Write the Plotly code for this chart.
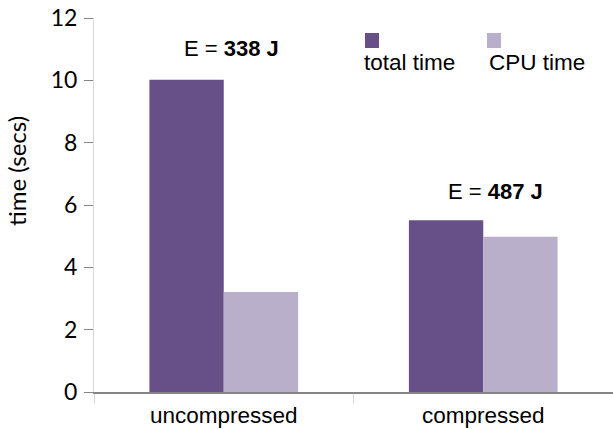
import plotly.graph_objects as go

categories = ["uncompressed", "compressed"]
total_time = [10.02, 5.51]
cpu_time = [3.21, 4.98]
energy = ["338 J", "487 J"]
series_names = ["total time", "CPU time"]
y_ticks = [0, 2, 4, 6, 8, 10, 12]

C_TOTAL = "#675088"
C_CPU = "#b9afcb"

W, H = 613, 429
L, R, T, B = 94, 0, 18, 37

fig = go.Figure()
fig.add_trace(go.Bar(x=categories, y=total_time, name=series_names[0],
                     marker=dict(color=C_TOTAL, line=dict(width=0))))
fig.add_trace(go.Bar(x=categories, y=cpu_time, name=series_names[1],
                     marker=dict(color=C_CPU, line=dict(width=0))))

def px2paper(px, py):
    return (px - L) / (W - L - R), (H - B - py) / (H - T - B)

SANS = "Liberation Sans, Arial"
CAL = "Lato, Open Sans"

# energy annotations
shifts = [(8, 17), (12, 14)]
for cat, tv, e, (dx, dy) in zip(categories, total_time, energy, shifts):
    fig.add_annotation(x=cat, y=tv, text="E = <b>" + e + "</b>", showarrow=False,
                       xanchor="center", yanchor="bottom", xshift=dx, yshift=dy,
                       font=dict(family=SANS, size=22, color="#000000"))

# custom legend: square above text
legend_items = [(series_names[0], C_TOTAL, 365, 33, 362), (series_names[1], C_CPU, 487, 33, 487)]
for name, col, sx, sy, tx in legend_items:
    x0, y0 = px2paper(sx, sy + 15)
    x1, y1 = px2paper(sx + 14, sy)
    fig.add_shape(type="rect", xref="paper", yref="paper", x0=x0, y0=y0, x1=x1, y1=y1,
                  fillcolor=col, line=dict(width=0))
    ax, ay = px2paper(tx, 62)
    fig.add_annotation(xref="paper", yref="paper", x=ax, y=ay, text=name, showarrow=False,
                       xanchor="left", yanchor="middle",
                       font=dict(family=SANS, size=22.5, color="#000000"))

# y axis title
tx, ty = px2paper(16, 171)
fig.add_annotation(xref="paper", yref="paper", x=tx, y=ty, text="time (secs)", showarrow=False,
                   textangle=-90, xanchor="center", yanchor="middle",
                   font=dict(family=CAL, size=24, color="#000000"))

fig.update_layout(
    width=W, height=H,
    margin=dict(l=L, r=R, t=T, b=B, pad=0, autoexpand=False),
    paper_bgcolor="white", plot_bgcolor="white",
    barmode="group", bargap=0.427, bargroupgap=0,
    showlegend=False,
    xaxis=dict(showline=True, linecolor="#868686", linewidth=2, automargin=False,
               ticks="outside", tickson="boundaries", ticklen=10, tickcolor="#d9d9d9",
               showgrid=False, zeroline=False, ticklabelstandoff=2,
               tickfont=dict(family=SANS, size=22.5, color="#000000")),
    yaxis=dict(range=[0, 12], tickvals=y_ticks, showline=True, linecolor="#d9d9d9", linewidth=1,
               automargin=False,
               ticks="outside", ticklen=9, tickcolor="#868686", showgrid=False, zeroline=False,
               ticklabelstandoff=2,
               tickfont=dict(family=CAL, size=23, color="#000000")),
)

fig.write_html("out.html", config={"displayModeBar": False},
               post_script="document.body.style.margin='0';document.body.style.overflow='hidden';")
